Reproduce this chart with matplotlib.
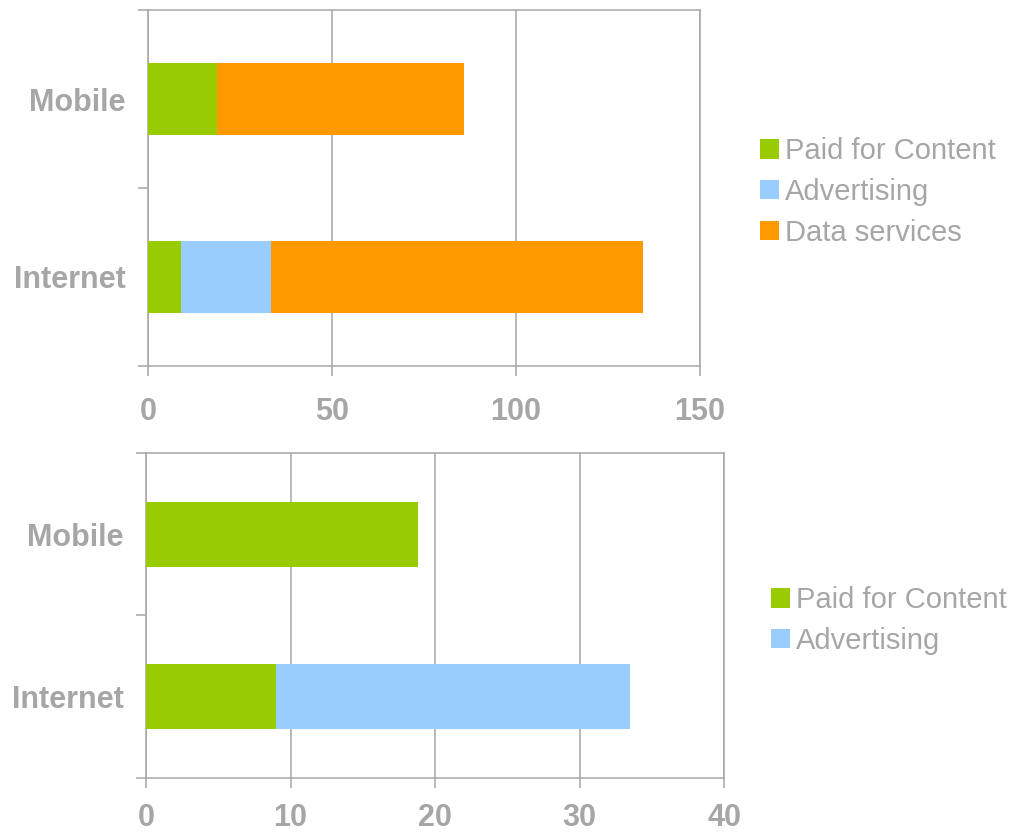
import matplotlib
matplotlib.use("Agg")
import matplotlib.pyplot as plt
from matplotlib.ticker import FixedLocator

categories = ["Internet", "Mobile"]
series_names = ["Paid for Content", "Advertising", "Data services"]
paid_for_content = [9.0, 18.8]
advertising = [24.5, 0.0]
data_services = [101.0, 67.1]

bottom_series_names = ["Paid for Content", "Advertising"]
bottom_paid = [9.0, 18.8]
bottom_adv = [24.5, 0.0]

top_xticks = [0, 50, 100, 150]
bottom_xticks = [0, 10, 20, 30, 40]

colors = ["#99CC00", "#99CCFF", "#FF9900"]
gray = "#A6A6A6"
text_gray = "#A6A6A6"

plt.rcParams['font.family'] = ['Liberation Sans', 'DejaVu Sans']

fig = plt.figure(figsize=(10.22, 8.35), dpi=100)

def style_axes(ax, xticks, xpad):
    ax.set_xlim(xticks[0], xticks[-1])
    ax.set_ylim(-0.5, len(categories) - 0.5)
    ax.set_xticks(xticks)
    ax.set_xticklabels([str(t) for t in xticks])
    ax.yaxis.set_major_locator(FixedLocator([-0.5, 0.5, 1.5]))
    ax.yaxis.set_minor_locator(FixedLocator(list(range(len(categories)))))
    ax.set_yticklabels([], minor=False)
    ax.set_yticklabels(categories, minor=True)
    ax.tick_params(axis='y', which='major', length=7, width=1.1, color=gray, direction='out')
    ax.tick_params(axis='y', which='minor', length=0, pad=16, labelsize=22,
                   labelcolor=text_gray)
    ax.tick_params(axis='x', which='major', length=7, width=1.1, color=gray,
                   direction='out', pad=xpad, labelsize=22, labelcolor=text_gray)
    for lab in ax.get_yticklabels(minor=True) + ax.get_xticklabels():
        lab.set_fontweight('bold')
    for s in ax.spines.values():
        s.set_color(gray)
        s.set_linewidth(1.1)
    ax.grid(axis='x', color=gray, linewidth=1.1)
    ax.set_axisbelow(True)

legend_kw = dict(loc='center left', frameon=False, fontsize=21,
                 handlelength=0.65, handleheight=0.65, handletextpad=0.2,
                 labelspacing=0.43, borderpad=0, borderaxespad=0)

# Top chart
ax1 = fig.add_axes([0.1448, 0.5617, 0.5401, 0.4263])
y = list(range(len(categories)))
left = [0.0] * len(categories)
for name, vals, c in zip(series_names, [paid_for_content, advertising, data_services], colors):
    ax1.barh(y, vals, height=0.4, left=left, color=c, label=name, zorder=3)
    left = [l + v for l, v in zip(left, vals)]
style_axes(ax1, top_xticks, 15)
leg1 = fig.legend(*ax1.get_legend_handles_labels(),
                  bbox_to_anchor=(0.7436, 0.7701), **legend_kw)
for t in leg1.get_texts():
    t.set_color(text_gray)

# Bottom chart
ax2 = fig.add_axes([0.1429, 0.0683, 0.5656, 0.3892])
left = [0.0] * len(categories)
for name, vals, c in zip(bottom_series_names, [bottom_paid, bottom_adv], colors):
    ax2.barh(y, vals, height=0.4, left=left, color=c, label=name, zorder=3)
    left = [l + v for l, v in zip(left, vals)]
style_axes(ax2, bottom_xticks, 11)
leg2 = fig.legend(*ax2.get_legend_handles_labels(),
                  bbox_to_anchor=(0.7544, 0.2569), **legend_kw)
for t in leg2.get_texts():
    t.set_color(text_gray)

fig.savefig("out.png", dpi=100)
